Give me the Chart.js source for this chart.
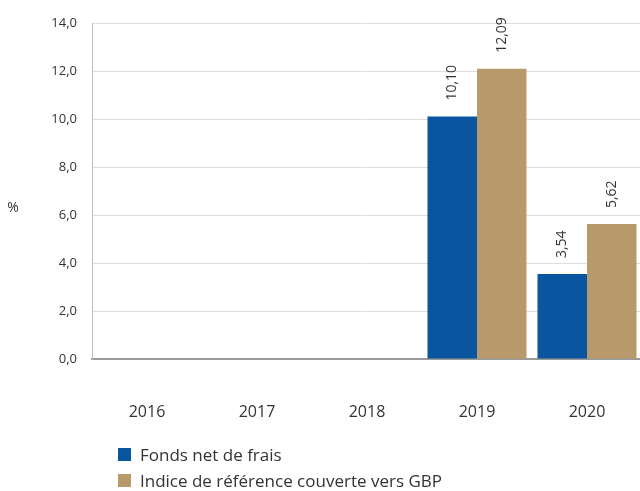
<!DOCTYPE html>
<html>
<head>
<meta charset="utf-8">
<script src="https://cdn.jsdelivr.net/npm/chart.js@4/dist/chart.umd.min.js"></script>
<style>
  html, body { margin: 0; padding: 0; background: #fff; overflow: hidden; }
  #wrap { position: relative; width: 640px; height: 491px; overflow: hidden; }
  #c { display: block; }
  #legend { position: absolute; left: 118px; top: 441px; font-family: "Open Sans", sans-serif; font-size: 17px; color: #333; }
  #legend div { display: flex; align-items: center; height: 26px; }
  #legend span.sw { display: inline-block; width: 13px; height: 13px; margin-right: 9px; }
</style>
</head>
<body>
<div id="wrap">
  <canvas id="c" width="642" height="491"></canvas>
  <div id="legend"></div>
</div>
<script>
const categories = ["2016", "2017", "2018", "2019", "2020"];
const fundValues = [null, null, null, 10.10, 3.54];
const benchValues = [null, null, null, 12.09, 5.62];
const seriesNames = ["Fonds net de frais", "Indice de référence couverte vers GBP"];
const seriesColors = ["#09559f", "#b8996b"];
const yTicks = [0, 2, 4, 6, 8, 10, 12, 14];

const fmt = (v, d) => v.toFixed(d).replace('.', ',');

const valueLabels = {
  id: 'valueLabels',
  afterDatasetsDraw(chart) {
    const ctx = chart.ctx;
    ctx.save();
    ctx.font = '14px "Open Sans", sans-serif';
    ctx.fillStyle = '#333';
    ctx.textAlign = 'left';
    ctx.textBaseline = 'middle';
    chart.data.datasets.forEach((ds, i) => {
      const meta = chart.getDatasetMeta(i);
      meta.data.forEach((bar, j) => {
        const v = ds.data[j];
        if (v === null || v === undefined) return;
        ctx.save();
        ctx.translate(bar.x, bar.y - 16);
        ctx.rotate(-Math.PI / 2);
        ctx.fillText(fmt(v, 2), 0, 0);
        ctx.restore();
      });
    });
    const a = chart.chartArea;
    ctx.font = '14px "Open Sans", sans-serif';
    ctx.textAlign = 'center';
    ctx.fillText('%', 13, a.top + (a.bottom - a.top) * 0.55);
    ctx.restore();
  }
};

new Chart(document.getElementById('c'), {
  type: 'bar',
  data: {
    labels: categories,
    datasets: [
      { label: seriesNames[0], data: fundValues, backgroundColor: seriesColors[0] },
      { label: seriesNames[1], data: benchValues, backgroundColor: seriesColors[1] }
    ]
  },
  options: {
    responsive: false,
    animation: false,
    layout: { padding: { top: 23, left: 0, right: 0, bottom: 0 } },
    datasets: { bar: { categoryPercentage: 0.9, barPercentage: 1.0 } },
    plugins: { legend: { display: false }, tooltip: { enabled: false } },
    scales: {
      x: {
        grid: { display: false, drawTicks: true, tickLength: 42 },
        border: { display: true, color: '#9a9a9a', width: 2 },
        ticks: { padding: 2, color: '#333', font: { family: '"Open Sans", sans-serif', size: 16 } },
        afterFit(s) { s.height = 132; }
      },
      y: {
        min: 0, max: 14,
        afterBuildTicks(s) { s.ticks = yTicks.map(v => ({ value: v })); },
        grid: { color: '#dedede', drawTicks: false },
        border: { display: true, color: '#bcbcbc', width: 1 },
        ticks: { padding: 15, color: '#333', font: { family: '"Open Sans", sans-serif', size: 13 }, callback: v => fmt(v, 1) },
        afterFit(s) { s.width = 92; }
      }
    }
  },
  plugins: [valueLabels]
});

const lg = document.getElementById('legend');
seriesNames.forEach((n, i) => {
  const d = document.createElement('div');
  d.innerHTML = '<span class="sw" style="background:' + seriesColors[i] + '"></span>' + n;
  lg.appendChild(d);
});
</script>
</body>
</html>
